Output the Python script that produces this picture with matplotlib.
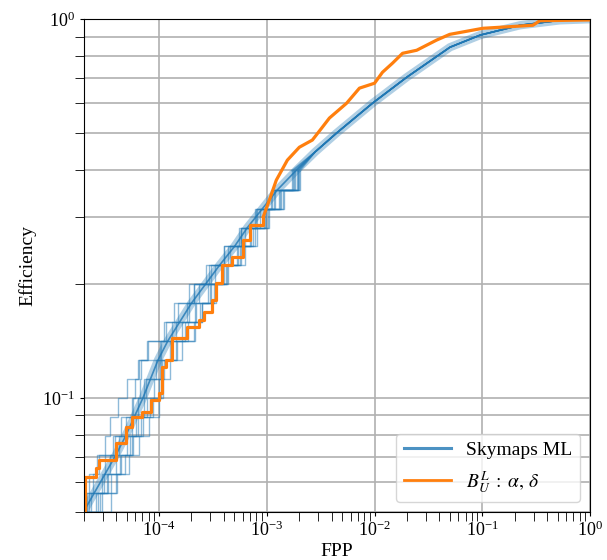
import numpy as np
import matplotlib
matplotlib.use("Agg")
import matplotlib.pyplot as plt
from matplotlib.lines import Line2D
from matplotlib.ticker import NullFormatter

plt.rcParams['font.family'] = ['Liberation Serif', 'DejaVu Serif']
plt.rcParams['mathtext.fontset'] = 'stix'

# log10 of efficiency at which the skymap curves are read
levels = [-1.30, -1.25, -1.20, -1.15, -1.10, -1.05, -1.00, -0.95, -0.90, -0.85,
          -0.80, -0.75, -0.70, -0.65, -0.60, -0.55, -0.50, -0.45, -0.40]

# mean skymaps ML curve (log10 FPP at the levels above)
mean_low = [-4.70, -4.60, -4.50, -4.40, -4.31, -4.23, -4.15, -4.08, -4.01, -3.92,
            -3.81, -3.70, -3.57, -3.44, -3.30, -3.18, -3.04, -2.90, -2.73]
# upper part, where all runs agree
tail_eff = [-0.35, -0.30, -0.222, -0.153, -0.074, -0.042, -0.016, -0.003, 0.0]
tail_fpp = [-2.55, -2.35, -2.02, -1.70, -1.30, -1.02, -0.65, -0.28, 0.0]

# individual runs (log10 FPP at the levels)
runs = [
    [-4.70, -4.53, -4.39, -4.32, -4.19, -4.09, -4.06, -4.00, -3.90, -3.83,
     -3.76, -3.62, -3.52, -3.37, -3.25, -3.15, -2.99, -2.87, -2.71],
    [-4.72, -4.71, -4.65, -4.56, -4.50, -4.46, -4.38, -4.30, -4.20, -4.10,
     -3.95, -3.86, -3.68, -3.52, -3.40, -3.24, -3.09, -2.95, -2.76],
    [-4.65, -4.59, -4.45, -4.28, -4.25, -4.21, -4.08, -3.96, -3.95, -3.90,
     -3.73, -3.66, -3.47, -3.38, -3.28, -3.11, -3.01, -2.85, -2.71],
    [-4.71, -4.67, -4.53, -4.50, -4.37, -4.35, -4.24, -4.22, -4.19, -3.98,
     -3.94, -3.74, -3.68, -3.54, -3.34, -3.26, -3.10, -2.92, -2.77],
    [-4.58, -4.45, -4.40, -4.36, -4.30, -4.17, -4.00, -3.98, -3.97, -3.84,
     -3.68, -3.60, -3.53, -3.36, -3.20, -3.13, -3.02, -2.84, -2.70],
    [-4.71, -4.65, -4.61, -4.58, -4.43, -4.31, -4.20, -4.18, -4.17, -4.11,
     -3.88, -3.72, -3.63, -3.56, -3.36, -3.20, -3.11, -2.93, -2.74],
    [-4.68, -4.57, -4.51, -4.40, -4.27, -4.15, -4.14, -4.12, -3.99, -3.79,
     -3.67, -3.60, -3.49, -3.42, -3.24, -3.09, -2.98, -2.89, -2.69],
    [-4.70, -4.63, -4.48, -4.46, -4.41, -4.25, -4.25, -4.14, -4.03, -3.99,
     -3.84, -3.82, -3.72, -3.48, -3.40, -3.24, -3.06, -2.96, -2.75],
    [-4.62, -4.55, -4.47, -4.35, -4.24, -4.20, -4.11, -4.05, -3.98, -3.88,
     -3.79, -3.67, -3.55, -3.40, -3.27, -3.16, -3.03, -2.88, -2.72],
]

# B_U^L : alpha, delta curve (log10 FPP, log10 efficiency), step points
bul_fpp = [-4.688, -4.688, -4.586, -4.558, -4.400, -4.307, -4.251, -4.158, -4.074,
           -4.000, -3.972, -3.935, -3.879, -3.740, -3.628, -3.581, -3.507, -3.470,
           -3.414, -3.321, -3.219, -3.153, -3.033, -2.967, -2.912, -2.809, -2.698,
           -2.577, -2.484, -2.419, -2.260, -2.140, -2.000, -1.926, -1.833, -1.740,
           -1.609, -1.423, -1.302, -0.995, -0.530, -0.465, 0.0]
bul_eff = [-1.40, -1.208, -1.185, -1.164, -1.119, -1.077, -1.050, -1.037, -1.005,
           -0.987, -0.918, -0.900, -0.842, -0.813, -0.794, -0.773, -0.742, -0.697,
           -0.649, -0.628, -0.583, -0.544, -0.522, -0.470, -0.425, -0.372, -0.338,
           -0.319, -0.285, -0.261, -0.222, -0.182, -0.169, -0.140, -0.116, -0.090,
           -0.082, -0.055, -0.040, -0.024, -0.016, -0.004, -0.002]
n_steps = 23  # points drawn as a staircase, the rest as a line

blue = '#1f77b4'
orange = '#ff7f0e'

fig = plt.figure(figsize=(6.07, 5.6), dpi=100)
ax = fig.add_axes([0.138, 0.0857, 0.834, 0.88])

lv = 10 ** np.array(levels)
te = 10 ** np.array(tail_eff)
tf = 10 ** np.array(tail_fpp)

# mean curve with its band
mean_x = np.concatenate([10 ** np.array(mean_low), tf])
mean_y = np.concatenate([lv, te])
ax.plot(mean_x, mean_y, color=blue, lw=6, alpha=0.35, solid_capstyle='butt')

for r in runs:
    rx = 10 ** np.array(r)
    ax.plot(rx, lv, color=blue, lw=1, alpha=0.5, drawstyle='steps-post')
    ax.plot(np.concatenate([[rx[-1]], tf]), np.concatenate([[lv[-1]], te]),
            color=blue, lw=1, alpha=0.4)

ax.plot(mean_x, mean_y, color=blue, lw=1.2, alpha=0.8)

bx = 10 ** np.array(bul_fpp)
by = 10 ** np.array(bul_eff)
ax.plot(bx[:n_steps], by[:n_steps], color=orange, lw=2.3, drawstyle='steps-post')
ax.plot(bx[n_steps - 1:], by[n_steps - 1:], color=orange, lw=2.3)

ax.set_xscale('log')
ax.set_yscale('log')
ax.set_xlim(2e-5, 1)
ax.set_ylim(0.05, 1)
ax.yaxis.set_minor_formatter(NullFormatter())

ax.grid(which='major', color='#b0b0b0', lw=1.2)
ax.yaxis.grid(which='minor', color='#b0b0b0', lw=1.2)
ax.tick_params(which='major', length=3, labelsize=13)
ax.tick_params(which='minor', length=6.5)

ax.set_xlabel('FPP', fontsize=14, labelpad=2)
ax.set_ylabel('Efficiency', fontsize=14)

handles = [Line2D([], [], color=blue, lw=2.2, alpha=0.8),
           Line2D([], [], color=orange, lw=2)]
ax.legend(handles, ['Skymaps ML', r'$B_U^L\;:\;\alpha,\,\delta$'], loc='lower right',
          fontsize=14, handlelength=2.4)

fig.savefig('out.png', dpi=100)
